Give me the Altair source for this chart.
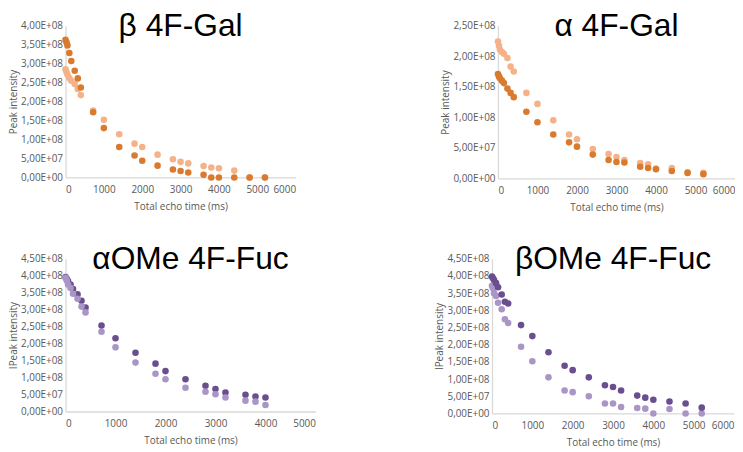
import altair as alt
import pandas as pd

# echo times (ms)
time = [0, 25, 50, 100, 150, 240, 320, 400, 720, 1000, 1400, 1800, 2000,
        2400, 2800, 3000, 3200, 3600, 3800, 4000, 4400, 4800, 5200]

# values in units of 1e8
b_gal_dark = [3.63, 3.56, 3.48, 3.28, 3.07, 2.81, 2.61, 2.37, 1.72, 1.30, 0.80, 0.58, 0.44,
              0.31, 0.21, 0.17, 0.13, 0.07, 0.0, 0.0, 0.0, 0.0, 0.0]
b_gal_light = [2.85, 2.78, 2.71, 2.62, 2.55, 2.46, 2.33, 2.17, 1.76, 1.52, 1.14, 0.89, 0.80,
               0.60, 0.48, 0.41, 0.37, 0.30, 0.26, 0.24, 0.18, 0.0, 0.0]

a_gal_dark = [1.71, 1.67, 1.64, 1.60, 1.56, 1.47, 1.40, 1.33, 1.09, 0.92, 0.72, 0.59, 0.52,
              0.39, 0.30, 0.27, 0.26, 0.19, 0.17, 0.15, 0.12, 0.09, 0.07]
a_gal_light = [2.24, 2.17, 2.11, 2.07, 2.04, 1.97, 1.83, 1.75, 1.40, 1.22, 0.95, 0.72, 0.64,
               0.48, 0.40, 0.35, 0.30, 0.25, 0.23, 0.16, 0.17, 0.10, 0.09]

a_fuc_dark = [3.96, 3.90, 3.84, 3.74, 3.61, 3.45, 3.26, 3.06, 2.53, 2.16, 1.73, 1.41, 1.19,
              0.95, 0.76, 0.66, 0.56, 0.49, 0.44, 0.41]
a_fuc_light = [3.94, 3.86, 3.74, 3.64, 3.47, 3.32, 3.09, 2.92, 2.35, 1.89, 1.44, 1.11, 0.95,
               0.70, 0.58, 0.51, 0.41, 0.32, 0.29, 0.19]

b_fuc_dark = [3.98, 3.93, 3.88, 3.79, 3.67, 3.46, 3.25, 3.20, 2.57, 2.25, 1.78, 1.39, 1.26,
              1.05, 0.82, 0.77, 0.67, 0.52, 0.46, 0.40, 0.35, 0.29, 0.17]
b_fuc_light = [3.71, 3.64, 3.50, 3.42, 3.22, 3.03, 2.74, 2.63, 1.94, 1.52, 1.05, 0.67, 0.62,
               0.50, 0.29, 0.29, 0.19, 0.16, 0.14, 0.0, 0.13, 0.0, 0.0]

orange_dark, orange_light = "#D97B2F", "#F5B289"
purple_dark, purple_light = "#6B4E8F", "#A996C6"

label_expr = ("datum.value == 0 ? '0,00E+00' : datum.value < 1 ? "
              "replace(format(datum.value*10, '.2f'), '.', ',') + 'E+07' : "
              "replace(format(datum.value, '.2f'), '.', ',') + 'E+08'")


def panel(title, ylab, dark, light, c_dark, c_light, ymax, xmax, w, h, dark_on_top):
    n = len(dark)
    d1 = pd.DataFrame({"t": time[:n], "v": dark, "s": "Serie 1"})
    d2 = pd.DataFrame({"t": time[:n], "v": light, "s": "Serie 2"})
    df = pd.concat([d2, d1] if dark_on_top else [d1, d2], ignore_index=True)
    df["o"] = range(len(df))
    yvals = [i * 0.5 for i in range(int(round(ymax / 0.5)) + 1)]
    return alt.Chart(df).mark_circle(size=44, opacity=1).encode(
        x=alt.X("t:Q", scale=alt.Scale(domain=[0, xmax], nice=False),
                axis=alt.Axis(values=list(range(0, xmax + 1, 1000)), format="d",
                              title="Total echo time (ms)")),
        y=alt.Y("v:Q", scale=alt.Scale(domain=[0, ymax], nice=False),
                axis=alt.Axis(values=yvals, labelExpr=label_expr, title=ylab)),
        color=alt.Color("s:N", scale=alt.Scale(domain=["Serie 1", "Serie 2"], range=[c_dark, c_light]),
                        legend=None),
        order=alt.Order("o:Q"),
    ).properties(
        width=w, height=h,
        title=alt.TitleParams(title, font="Liberation Sans", fontSize=32, fontWeight="normal",
                              color="black", anchor="middle", frame="group", offset=-22),
    )


p1 = panel("β 4F-Gal", "Peak intensity", b_gal_dark, b_gal_light, orange_dark, orange_light, 4.0, 6000, 232, 153, True)
p2 = panel("α 4F-Gal", "Peak intensity", a_gal_dark, a_gal_light, orange_dark, orange_light, 2.5, 6000, 239, 154, True)
p3 = panel("αOMe 4F-Fuc", "IPeak intensity", a_fuc_dark, a_fuc_light, purple_dark, purple_light, 4.5, 5000, 252, 154, False)
p4 = panel("βOMe 4F-Fuc", "IPeak intensity", b_fuc_dark, b_fuc_light, purple_dark, purple_light, 4.5, 6000, 244, 156, True)

top = alt.hconcat(p1, p2, spacing=146).resolve_scale(color="independent")
bottom = alt.hconcat(p3, p4, spacing=120).resolve_scale(color="independent")

chart = alt.vconcat(top, bottom, spacing=31).resolve_scale(
    color="independent"
).configure_view(stroke=None).configure_axis(
    grid=False, ticks=False, domainColor="#D9D9D9", domainWidth=1.3,
    labelColor="#595959", labelFont="Open Sans", labelFontSize=10,
    titleColor="#595959", titleFont="Open Sans", titleFontSize=10, titleFontWeight="normal",
    labelPadding=3,
).configure_axisX(titlePadding=7, labelPadding=7).configure_axisY(titlePadding=2).properties(
    padding=0,
    background="white",
)

chart.save("out.html", embed_options={"renderer": "svg", "actions": False})
